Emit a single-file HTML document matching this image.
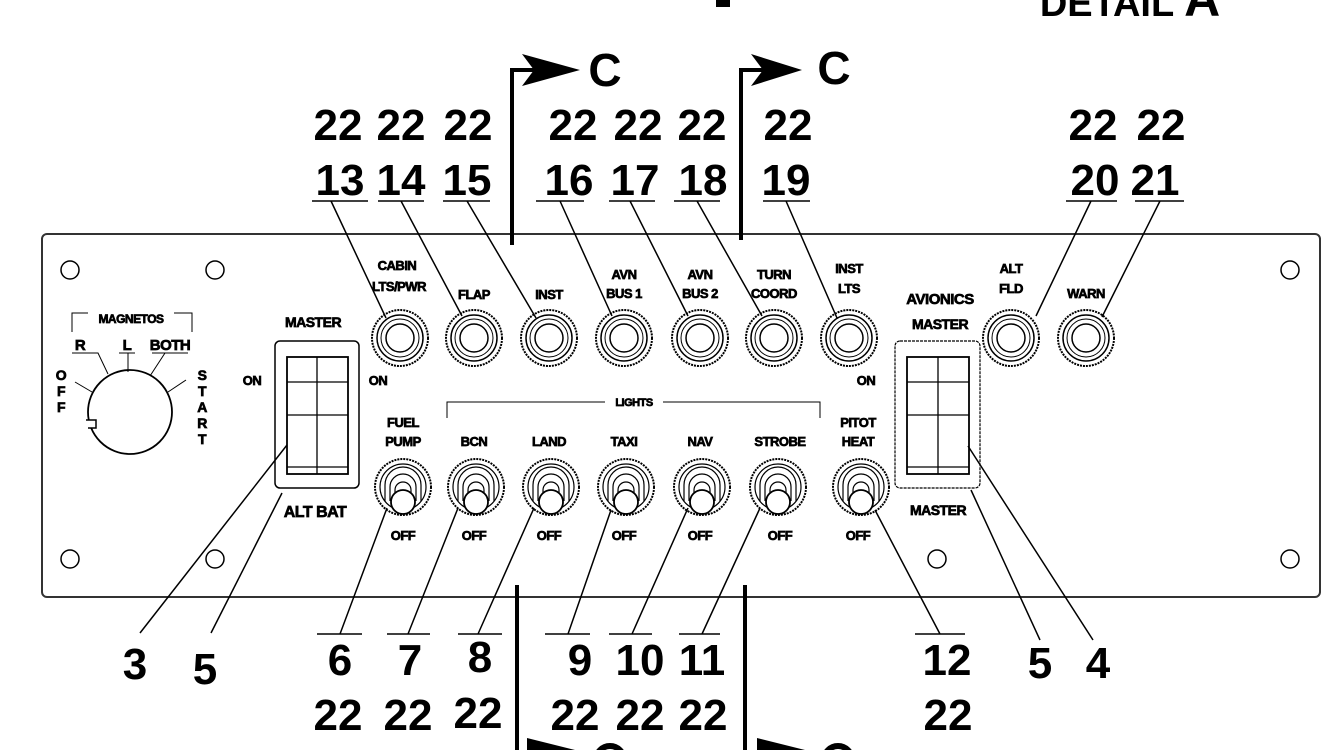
<!DOCTYPE html>
<html><head><meta charset="utf-8"><style>
html,body{margin:0;padding:0;background:#fff}
svg{display:block}
.n{font-family:"Liberation Sans",sans-serif;font-weight:bold;font-size:44px;fill:#000;text-anchor:middle}
.l{font-family:"Liberation Sans",sans-serif;font-weight:bold;font-size:13px;fill:#000;stroke:#000;stroke-width:0.7;text-anchor:middle;letter-spacing:-0.5px}
</style></head><body>
<svg width="1334" height="750" viewBox="0 0 1334 750" xmlns="http://www.w3.org/2000/svg">
<defs>
<g id="cb"><circle r="28" fill="#fff" stroke="#000" stroke-width="2" stroke-dasharray="2 1"/><circle r="23" fill="none" stroke="#000" stroke-width="1.5"/><circle r="19" fill="none" stroke="#000" stroke-width="1"/><circle r="14" fill="none" stroke="#000" stroke-width="1.5"/></g>
<g id="tg"><circle r="28" fill="#fff" stroke="#000" stroke-width="2" stroke-dasharray="2 1"/><circle r="23" fill="none" stroke="#000" stroke-width="1.2"/>
<path d="M-18 14 V-2 A18 18 0 0 1 18 -2 V14" fill="none" stroke="#000" stroke-width="1.2"/>
<path d="M-13 14 V0 A13 13 0 0 1 13 0 V14" fill="none" stroke="#000" stroke-width="1.2"/>
<path d="M-8 14 V3 A8 8 0 0 1 8 3 V14" fill="none" stroke="#000" stroke-width="1.2"/>
<circle cx="0" cy="15" r="12" fill="#fff" stroke="#000" stroke-width="1.8"/></g>
</defs>
<text x="1130" y="16" class="n" style="font-size:38px">DETAIL <tspan style="font-size:50px">A</tspan></text>
<rect x="716" y="0" width="14" height="7" fill="#000"/>
<rect x="42" y="234" width="1278" height="363" rx="5" fill="#fff" stroke="#333" stroke-width="2"/>
<g fill="#fff" stroke="#000" stroke-width="1.5">
<circle cx="70" cy="270" r="9"/><circle cx="215" cy="270" r="9"/><circle cx="70" cy="559" r="9"/><circle cx="215" cy="559" r="9"/><circle cx="937" cy="559" r="9"/><circle cx="1290" cy="270" r="9"/><circle cx="1290" cy="559" r="9"/>
</g>
<g stroke="#000" stroke-width="4" fill="none">
<path d="M512 245 V70 H535"/><path d="M741 240 V70 H764"/>
<path d="M517 585 V750"/><path d="M745 585 V750"/>
</g>
<path d="M522 54 L580 70 L522 86 L534 70 Z" fill="#000"/>
<path d="M751 54 L802 70 L751 86 L763 70 Z" fill="#000"/>
<text x="605" y="86" class="n" style="font-size:46px">C</text>
<text x="834" y="84" class="n" style="font-size:46px">C</text>
<path d="M527 738 L575 750 L527 750 Z M757 738 L805 750 L757 750Z" fill="#000"/>
<circle cx="610" cy="760" r="14" fill="none" stroke="#000" stroke-width="6"/>
<circle cx="838" cy="760" r="14" fill="none" stroke="#000" stroke-width="6"/>
<!-- magnetos -->
<path d="M72 332 V313 H192 V332" fill="none" stroke="#000" stroke-width="1"/>
<rect x="88" y="309" width="86" height="9" fill="#fff"/>
<text x="131" y="323" class="l" style="font-size:12px">MAGNETOS</text>
<text x="80" y="350" class="l" style="font-size:15px">R</text>
<text x="127" y="350" class="l" style="font-size:15px">L</text>
<text x="170" y="350" class="l" style="font-size:15px">BOTH</text>
<g stroke="#000" stroke-width="1" fill="none">
<path d="M72 353 H98 L108 374"/><path d="M119 353 H135 M128 353 V372"/><path d="M152 353 H188 M165 353 L150 376"/>
<path d="M75 382 L92 392"/><path d="M168 392 L186 380"/>
</g>
<circle cx="130" cy="412" r="42" fill="none" stroke="#000" stroke-width="1.8"/>
<path d="M86 420 h10 v8 h-8" fill="#fff" stroke="#000" stroke-width="1.5"/>
<g class="l" style="font-size:14px">
<text x="61" y="380">O</text><text x="61" y="396">F</text><text x="61" y="412">F</text>
<text x="202" y="380">S</text><text x="202" y="396">T</text><text x="202" y="412">A</text><text x="202" y="428">R</text><text x="202" y="444">T</text>
</g>
<text x="313" y="327" class="l" style="font-size:14px">MASTER</text>
<text x="252" y="385" class="l">ON</text><text x="378" y="385" class="l">ON</text>
<text x="315" y="517" class="l" style="font-size:16px">ALT BAT</text>
<rect x="275" y="341" width="84" height="147" rx="5" fill="#fff" stroke="#000" stroke-width="1.5"/>
<g stroke="#000" fill="none"><rect x="287" y="357" width="61" height="117" stroke-width="1.8"/><path d="M317 357 V474 M287 382 H348 M287 415 H348 M287 467 H348" stroke-width="1.3"/></g>
<text x="940" y="304" class="l" style="font-size:15px">AVIONICS</text>
<text x="940" y="329" class="l" style="font-size:14px">MASTER</text>
<text x="866" y="385" class="l">ON</text>
<text x="938" y="515" class="l" style="font-size:14px">MASTER</text>
<rect x="895" y="341" width="85" height="147" rx="5" fill="#fff" stroke="#000" stroke-width="1.2" stroke-dasharray="3 1"/>
<g stroke="#000" fill="none"><rect x="907" y="357" width="62" height="117" stroke-width="1.8"/><path d="M938 357 V474 M907 382 H969 M907 415 H969 M907 467 H969" stroke-width="1.3"/></g>
<use href="#cb" x="400" y="338"/><use href="#cb" x="474" y="338"/><use href="#cb" x="549" y="338"/><use href="#cb" x="624" y="338"/><use href="#cb" x="700" y="338"/><use href="#cb" x="774" y="338"/><use href="#cb" x="849" y="338"/><use href="#cb" x="1011" y="338"/><use href="#cb" x="1086" y="338"/>
<g class="l">
<text x="397" y="270">CABIN</text><text x="399" y="291">LTS/PWR</text>
<text x="474" y="299">FLAP</text><text x="549" y="299">INST</text>
<text x="624" y="279">AVN</text><text x="624" y="298">BUS 1</text>
<text x="700" y="279">AVN</text><text x="700" y="298">BUS 2</text>
<text x="774" y="279">TURN</text><text x="774" y="298">COORD</text>
<text x="849" y="273">INST</text><text x="849" y="293">LTS</text>
<text x="1011" y="273">ALT</text><text x="1011" y="293">FLD</text>
<text x="1086" y="298">WARN</text>
<text x="403" y="427">FUEL</text><text x="403" y="446">PUMP</text>
<text x="474" y="446">BCN</text><text x="549" y="446">LAND</text><text x="624" y="446">TAXI</text><text x="700" y="446">NAV</text><text x="780" y="446">STROBE</text>
<text x="858" y="427">PITOT</text><text x="858" y="446">HEAT</text>
<text x="403" y="540">OFF</text><text x="474" y="540">OFF</text><text x="549" y="540">OFF</text><text x="624" y="540">OFF</text><text x="700" y="540">OFF</text><text x="780" y="540">OFF</text><text x="858" y="540">OFF</text>
<text x="634" y="406" style="font-size:11px">LIGHTS</text>
</g>
<path d="M447 418 V402 H605 M663 402 H820 V418" fill="none" stroke="#000" stroke-width="1"/>
<use href="#tg" x="403" y="487"/><use href="#tg" x="476" y="487"/><use href="#tg" x="551" y="487"/><use href="#tg" x="626" y="487"/><use href="#tg" x="702" y="487"/><use href="#tg" x="778" y="487"/><use href="#tg" x="861" y="487"/>
<g class="n">
<text x="338" y="140">22</text><text x="401" y="140">22</text><text x="468" y="140">22</text><text x="573" y="140">22</text><text x="638" y="140">22</text><text x="702" y="140">22</text><text x="788" y="140">22</text><text x="1093" y="140">22</text><text x="1161" y="140">22</text>
<text x="340" y="195">13</text><text x="401" y="195">14</text><text x="467" y="195">15</text><text x="569" y="195">16</text><text x="635" y="195">17</text><text x="703" y="195">18</text><text x="786" y="195">19</text><text x="1095" y="195">20</text><text x="1155" y="195">21</text>
</g>
<g stroke="#000" stroke-width="1.5" fill="none">
<path d="M312 201 H368 M331 201 L386 318"/>
<path d="M378 201 H424 M401 201 L462 316"/>
<path d="M443 201 H490 M467 201 L536 318"/>
<path d="M536 201 H584 M560 201 L612 316"/>
<path d="M609 201 H655 M630 201 L688 316"/>
<path d="M674 201 H720 M697 201 L762 316"/>
<path d="M763 201 H810 M786 201 L837 318"/>
<path d="M1066 201 H1117 M1091 201 L1036 316"/>
<path d="M1135 201 H1184 M1160 201 L1102 317"/>
</g>
<g class="n">
<text x="135" y="679">3</text><text x="205" y="684">5</text>
<text x="340" y="675">6</text><text x="410" y="675">7</text><text x="480" y="672">8</text><text x="580" y="675">9</text><text x="640" y="675">10</text><text x="702" y="675">11</text><text x="947" y="675">12</text><text x="1040" y="678">5</text><text x="1098" y="678">4</text>
<text x="338" y="730">22</text><text x="408" y="730">22</text><text x="478" y="728">22</text><text x="575" y="730">22</text><text x="640" y="730">22</text><text x="703" y="730">22</text><text x="948" y="730">22</text>
</g>
<g stroke="#000" stroke-width="1.5" fill="none">
<path d="M140 633 L287 445"/><path d="M211 633 L282 493"/>
<path d="M317 634 H362 M340 634 L387 508"/>
<path d="M387 634 H430 M408 634 L458 508"/>
<path d="M458 634 H502 M478 634 L534 508"/>
<path d="M545 634 H590 M568 634 L611 510"/>
<path d="M609 634 H652 M632 634 L688 508"/>
<path d="M679 634 H720 M702 634 L760 508"/>
<path d="M915 634 H965 M940 634 L875 510"/>
<path d="M1040 640 L971 490"/><path d="M1093 640 L968 446"/>
</g>
</svg>
</body></html>
